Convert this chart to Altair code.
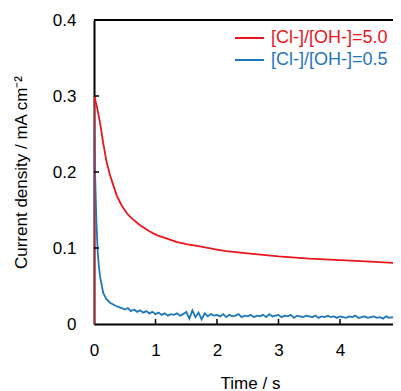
import altair as alt
import pandas as pd

# ---- data ----
series_names = ["[Cl-]/[OH-]=5.0", "[Cl-]/[OH-]=0.5"]
series_colors = ["#e8161d", "#1f77bb"]

red_t = [0, 0, 0.02, 0.05, 0.1, 0.15, 0.2, 0.26, 0.3, 0.37, 0.45, 0.53, 0.6, 0.75,
         0.9, 1.02, 1.2, 1.34, 1.5, 1.72, 2.0, 2.15, 2.5, 3.0, 3.5, 4.0, 4.5, 5.0,
         5.5, 6.0]
red_v = [0, 0.300, 0.295, 0.285, 0.264, 0.238, 0.215, 0.196, 0.186, 0.169, 0.156,
         0.146, 0.140, 0.130, 0.122, 0.117, 0.112, 0.108, 0.105, 0.102, 0.098,
         0.096, 0.093, 0.089, 0.086, 0.084, 0.082, 0.080, 0.079, 0.078]

blue_t_early = [0, 0, 0.01, 0.02, 0.04, 0.06, 0.08, 0.1, 0.15, 0.2, 0.26, 0.35, 0.45]
blue_v_early = [0, 0.290, 0.240, 0.190, 0.133, 0.095, 0.075, 0.062, 0.041, 0.033,
                0.028, 0.024, 0.021]
blue_v_late = [  # every 0.05 s from 0.50 s to 5.95 s
    0.019, 0.021, 0.017, 0.019, 0.016, 0.018, 0.015, 0.017, 0.014, 0.016,
    0.013, 0.015, 0.012, 0.014, 0.011, 0.013, 0.012, 0.014, 0.011, 0.013,
    0.016, 0.007, 0.018, 0.009, 0.015, 0.006, 0.014, 0.010, 0.013, 0.011,
    0.012, 0.010, 0.013, 0.009, 0.012, 0.010, 0.011, 0.013, 0.009, 0.011,
    0.010, 0.012, 0.009, 0.011, 0.010, 0.012, 0.009, 0.013, 0.010, 0.011,
    0.012, 0.009, 0.011, 0.010, 0.012, 0.008, 0.011, 0.010, 0.009, 0.011,
    0.010, 0.009, 0.011, 0.008, 0.010, 0.009, 0.011, 0.009, 0.010, 0.008,
    0.010, 0.009, 0.008, 0.010, 0.009, 0.011, 0.008, 0.009, 0.010, 0.008,
    0.009, 0.010, 0.008, 0.009, 0.007, 0.010, 0.008, 0.009, 0.008, 0.007,
    0.009, 0.008, 0.010, 0.007, 0.009, 0.008, 0.010, 0.008, 0.009, 0.007,
    0.008, 0.009, 0.007, 0.009, 0.008, 0.010, 0.007, 0.008, 0.009, 0.008,
]
blue_t_late = [round(0.5 + 0.05 * i, 2) for i in range(len(blue_v_late))]

x_labels = [0, 1, 2, 3, 4]
x_ticks = [1, 2, 3, 4]
y_labels = [0, 0.1, 0.2, 0.3, 0.4]
y_ticks = [0.1, 0.2, 0.3]

# ---- table ----
rows = []
for i, (t, v) in enumerate(zip(blue_t_early + blue_t_late, blue_v_early + blue_v_late)):
    rows.append({"t": t, "j": v, "s": series_names[1], "o": i})
for i, (t, v) in enumerate(zip(red_t, red_v)):
    rows.append({"t": t, "j": v, "s": series_names[0], "o": i})
df = pd.DataFrame(rows)

W, H = 299, 304
PX_PER_S = 61.5
FONT = "Liberation Sans"

xscale = alt.Scale(domain=[0, W / PX_PER_S], nice=False, zero=False)
yscale = alt.Scale(domain=[0, 0.4], nice=False)
cscale = alt.Scale(domain=series_names, range=series_colors)

lines = alt.Chart(df).mark_line(strokeWidth=1.8, clip=True).encode(
    x=alt.X("t:Q", scale=xscale,
            axis=alt.Axis(title="Time / s", values=x_labels, format="d",
                          ticks=False, domain=True, domainColor="black", domainWidth=2,
                          grid=False, labelFlush=False,
                          labelPadding=18, labelFontSize=17, labelColor="black",
                          titleFontSize=17, titleFontWeight="normal", titleColor="black",
                          titleX=156, titleY=59, titleBaseline="middle")),
    y=alt.Y("j:Q", scale=yscale,
            axis=alt.Axis(title="Current density / mA cm⁻²", values=y_labels,
                          labelExpr="datum.value == 0 ? '0' : format(datum.value, '.1f')",
                          ticks=False, domain=True, domainColor="black", domainWidth=2,
                          grid=False, labelFlush=False,
                          labelPadding=18, labelFontSize=17, labelColor="black",
                          titleFontSize=17, titleFontWeight="normal", titleColor="black",
                          titleAngle=-90, titleX=-73, titleY=152,
                          titleBaseline="middle", titleAlign="center")),
    color=alt.Color("s:N", scale=cscale, legend=None),
    order=alt.Order("o:Q"),
    detail="s:N",
)

top_border = alt.Chart(pd.DataFrame({"k": [0]})).mark_rule(color="black", strokeWidth=2).encode(
    x=alt.value(0), x2=alt.value(W), y=alt.value(0))

xt = alt.Chart(pd.DataFrame({"v": x_ticks})).mark_rule(color="black", strokeWidth=1.5).encode(
    x=alt.X("v:Q", scale=xscale), y=alt.value(H), y2=alt.value(H - 5))
yt = alt.Chart(pd.DataFrame({"v": y_ticks})).mark_rule(color="black", strokeWidth=1.5).encode(
    y=alt.Y("v:Q", scale=yscale), x=alt.value(0), x2=alt.value(5))

leg = pd.DataFrame({"s": series_names, "row": [0, 1]})
rowscale = alt.Scale(domain=[0, 1], range=[18, 40])
leg_rule = alt.Chart(leg).mark_rule(strokeWidth=2).encode(
    x=alt.value(141), x2=alt.value(170),
    y=alt.Y("row:Q", scale=rowscale, axis=None),
    color=alt.Color("s:N", scale=cscale, legend=None))
leg_text = alt.Chart(leg).mark_text(align="left", baseline="middle", fontSize=18, font=FONT).encode(
    x=alt.value(177),
    y=alt.Y("row:Q", scale=rowscale, axis=None),
    text="s:N",
    color=alt.Color("s:N", scale=cscale, legend=None))

main = alt.layer(lines, top_border, xt, yt)
legend_layer = alt.layer(leg_rule, leg_text)

chart = alt.layer(main, legend_layer).resolve_scale(y="independent").properties(
    width=W, height=H,
    autosize=alt.AutoSizeParams(type="none"),
    padding={"left": 86, "top": 12, "right": 0, "bottom": 67},
    background="white",
).configure_view(strokeWidth=0).configure(font=FONT)

chart.save("out.html", embed_options={"renderer": "svg", "actions": False})
